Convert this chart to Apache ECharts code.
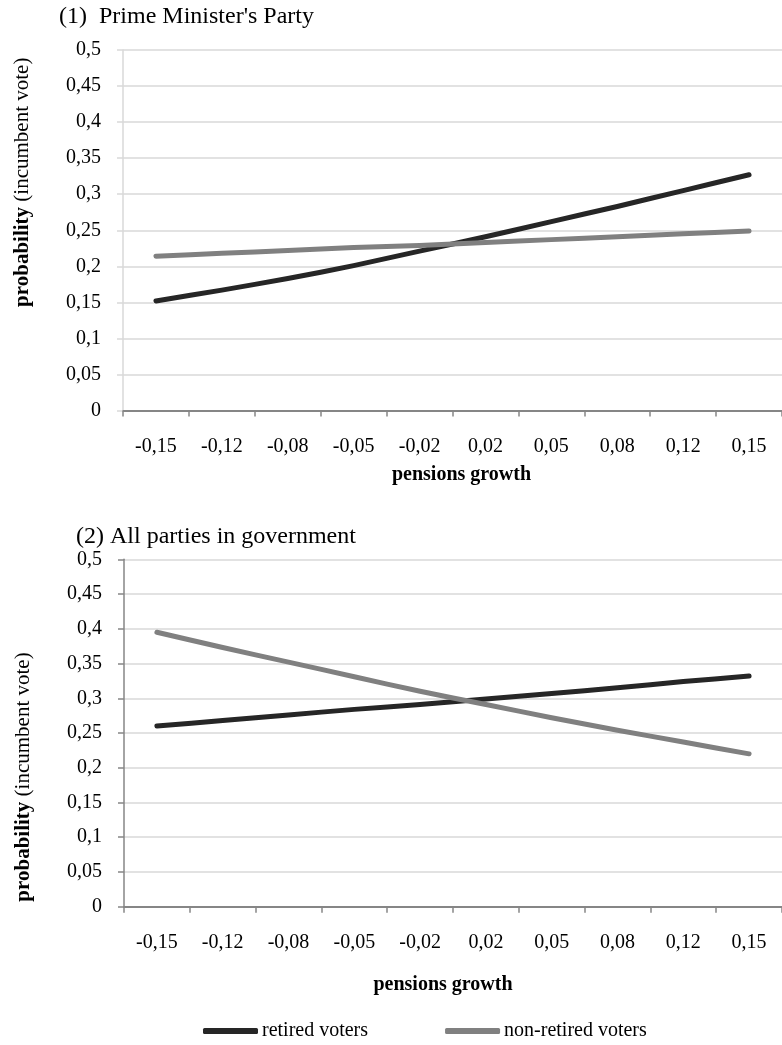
<!DOCTYPE html>
<html>
<head>
<meta charset="utf-8">
<script src="https://cdn.jsdelivr.net/npm/echarts@6/dist/echarts.min.js"></script>
<style>
html,body{margin:0;padding:0;background:#fff;}
#c{width:782px;height:1045px;}
</style>
</head>
<body>
<div id="c"></div>
<script>
const categories = ['-0,15','-0,12','-0,08','-0,05','-0,02','0,02','0,05','0,08','0,12','0,15'];
const pmRetired    = [0.152,0.167,0.183,0.201,0.221,0.241,0.262,0.283,0.305,0.327];
const pmNonRetired = [0.214,0.218,0.222,0.226,0.229,0.233,0.237,0.241,0.245,0.249];
const govRetired    = [0.260,0.268,0.276,0.284,0.291,0.299,0.307,0.315,0.324,0.332];
const govNonRetired = [0.395,0.373,0.352,0.331,0.310,0.291,0.272,0.254,0.237,0.220];
const panelTitles = ['(1)  Prime Minister\'s Party','(2) All parties in government'];
const seriesNames = ['retired voters','non-retired voters'];

const FONT = '"Liberation Serif","Times New Roman",serif';
const DARK = '#262626', GRAY = '#808080', GRID = '#d9d9d9', AXIS = '#868686';

const chart = echarts.init(document.getElementById('c'), null, {renderer:'canvas'});
const fmtY = v => String(parseFloat(v.toFixed(2))).replace('.', ',');

function yAxis(gridIndex, axisColor, namePad){
  return {
    type:'value', gridIndex, min:0, max:0.5, interval:0.05,
    axisLine:{show:true, lineStyle:{color:axisColor, width:1.5}},
    axisTick:{show:true, length:6, lineStyle:{color:axisColor, width:1.5}},
    splitLine:{lineStyle:{color:GRID, width:1.5}},
    axisLabel:{margin:22, color:'#000', fontFamily:FONT, fontSize:20, formatter:fmtY},
    name:'{b|probability} (incumbent vote)',
    nameLocation:'middle', nameGap:90,
    nameTextStyle:{color:'#000', fontFamily:FONT, fontSize:21, padding:namePad,
      rich:{b:{fontWeight:'bold', fontFamily:FONT, fontSize:21, color:'#000'}}}
  };
}
function xAxis(gridIndex, gap, namePad){
  return {
    type:'category', gridIndex, data:categories, boundaryGap:true,
    axisLine:{show:true, lineStyle:{color:AXIS, width:2}},
    axisTick:{show:true, length:6, alignWithLabel:false, lineStyle:{color:AXIS, width:1.5}},
    axisLabel:{margin:26, color:'#000', fontFamily:FONT, fontSize:20, interval:0},
    name:'pensions growth', nameLocation:'middle', nameGap:gap,
    nameTextStyle:{color:'#000', fontFamily:FONT, fontSize:20, fontWeight:'bold', padding:namePad}
  };
}
function line(name, data, color, idx){
  return {
    type:'line', name, data, xAxisIndex:idx, yAxisIndex:idx,
    symbol:'none', smooth:0.2, color,
    lineStyle:{color, width:5, cap:'round', join:'round'}
  };
}

chart.setOption({
  animation:false,
  backgroundColor:'#fff',
  title:[
    {text:panelTitles[0], left:54, top:0, textStyle:{fontFamily:FONT, fontSize:24, fontWeight:'normal', color:'#000'}},
    {text:panelTitles[1], left:71, top:520, textStyle:{fontFamily:FONT, fontSize:24, fontWeight:'normal', color:'#000'}}
  ],
  legend:{
    left:203, top:1021, padding:0, itemWidth:55, itemHeight:6, itemGap:77,
    icon:'roundRect',
    textStyle:{fontFamily:FONT, fontSize:20, color:'#000', padding:[0,0,0,-1]},
    data:seriesNames
  },
  grid:[
    {left:123, right:0, top:50, height:360.5, containLabel:false},
    {left:124, right:0, top:559.3, height:347.4, containLabel:false}
  ],
  xAxis:[xAxis(0, 54, [0,0,0,18]), xAxis(1, 68, [0,20,0,0])],
  yAxis:[yAxis(0, GRID, [0,0,0,96]), yAxis(1, AXIS, [0,88,0,0])],
  series:[
    line(seriesNames[0], pmRetired, DARK, 0),
    line(seriesNames[1], pmNonRetired, GRAY, 0),
    line(seriesNames[0], govRetired, DARK, 1),
    line(seriesNames[1], govNonRetired, GRAY, 1)
  ]
});
</script>
</body>
</html>
